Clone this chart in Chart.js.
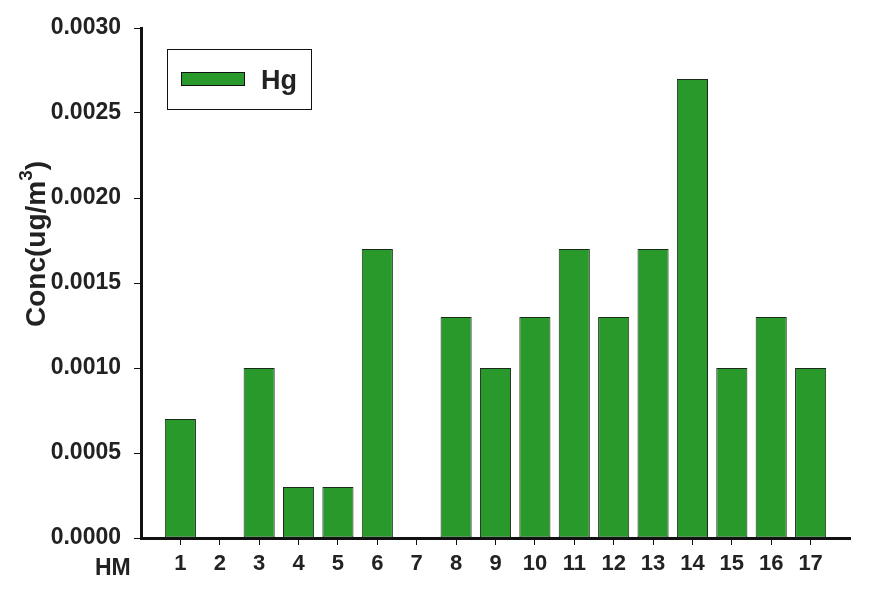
<!DOCTYPE html>
<html>
<head>
<meta charset="utf-8">
<script src="https://cdn.jsdelivr.net/npm/chart.js@4/dist/chart.umd.min.js"></script>
<style>
  html, body { margin: 0; padding: 0; background: #fff; }
  #wrap { width: 874px; height: 594px; }
</style>
</head>
<body>
<div id="wrap"><canvas id="bar-chart"></canvas></div>
<script>
const sites = [1, 2, 3, 4, 5, 6, 7, 8, 9, 10, 11, 12, 13, 14, 15, 16, 17];
const hg = [0.0007, 0, 0.0010, 0.0003, 0.0003, 0.0017, 0, 0.0013, 0.0010, 0.0013,
            0.0017, 0.0013, 0.0017, 0.0027, 0.0010, 0.0013, 0.0010];
const seriesName = "Hg";
const yTitle = ["Conc(ug/m", "3", ")"];
const xTitle = "HM";

const FONT = "'Liberation Sans', Arial, sans-serif";
const GREEN = "#29992b";
const INK = "#222222";

// legend box + axis titles drawn by hand (superscript in the y title)
const extras = {
    id: "extras",
    afterDraw(chart) {
        const ctx = chart.ctx;
        ctx.save();

        // legend
        ctx.strokeStyle = "#111";
        ctx.lineWidth = 1;
        ctx.strokeRect(167.5, 49.5, 144, 60);
        ctx.fillStyle = GREEN;
        ctx.fillRect(181, 72, 64, 14);
        ctx.strokeRect(181.5, 72.5, 63, 13);
        ctx.fillStyle = INK;
        ctx.font = "bold 27px " + FONT;
        ctx.textBaseline = "alphabetic";
        ctx.textAlign = "left";
        ctx.fillText(seriesName, 261, 89);

        // x title
        ctx.font = "bold 23px " + FONT;
        ctx.fillText(xTitle, 95, 575);

        // y title, rotated
        ctx.translate(45, 244);
        ctx.rotate(-Math.PI / 2);
        ctx.font = "bold 28px " + FONT;
        const w0 = ctx.measureText(yTitle[0]).width;
        ctx.font = "bold 19px " + FONT;
        const w1 = ctx.measureText(yTitle[1]).width;
        ctx.font = "bold 28px " + FONT;
        const w2 = ctx.measureText(yTitle[2]).width;
        let x = -(w0 + w1 + w2) / 2;
        ctx.fillText(yTitle[0], x, 0);
        x += w0;
        ctx.font = "bold 19px " + FONT;
        ctx.fillText(yTitle[1], x, -13);
        x += w1;
        ctx.font = "bold 28px " + FONT;
        ctx.fillText(yTitle[2], x, 0);
        ctx.restore();
    },
};

new Chart(document.getElementById("bar-chart"), {
    type: "bar",
    data: {
        datasets: [
            {
                label: seriesName,
                data: sites.map((s, i) => ({ x: s, y: hg[i] })),
                backgroundColor: GREEN,
                borderColor: "#1a2a1a",
                borderWidth: 1,
                borderSkipped: false,
                categoryPercentage: 1,
                barPercentage: 0.79,
            },
        ],
    },
    options: {
        responsive: true,
        maintainAspectRatio: false,
        animation: false,
        layout: {
            padding: { left: 0, top: 28, right: 24, bottom: 0 },
        },
        scales: {
            x: {
                type: "linear",
                offset: false,
                min: 0,
                max: 18,
                afterBuildTicks: (scale) => {
                    scale.ticks = sites.map((s) => ({ value: s }));
                },
                afterFit: (scale) => {
                    scale.height = 56;
                },
                border: { color: "#111", width: 3 },
                grid: {
                    offset: false,
                    drawOnChartArea: false,
                    drawTicks: true,
                    tickLength: 7,
                    tickColor: "#111",
                    lineWidth: 1,
                },
                ticks: {
                    autoSkip: false,
                    maxRotation: 0,
                    padding: 6,
                    color: INK,
                    font: { family: FONT, size: 22, weight: "bold" },
                },
            },
            y: {
                min: 0,
                max: 0.003,
                afterFit: (scale) => {
                    scale.width = 141;
                },
                border: { color: "#111", width: 3 },
                grid: {
                    drawOnChartArea: false,
                    drawTicks: true,
                    tickLength: 7,
                    tickColor: "#111",
                    lineWidth: 1,
                },
                ticks: {
                    stepSize: 0.0005,
                    padding: 13,
                    color: INK,
                    font: { family: FONT, size: 23, weight: "bold" },
                    callback: (v) => v.toFixed(4),
                },
            },
        },
        plugins: {
            legend: { display: false },
            tooltip: { enabled: false },
        },
    },
    plugins: [extras],
});
</script>
</body>
</html>
